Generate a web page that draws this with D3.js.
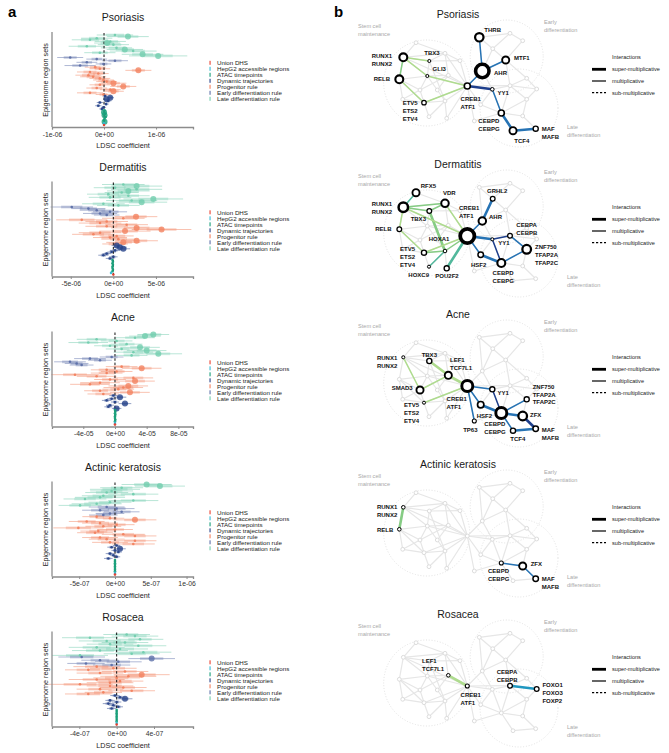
<!DOCTYPE html>
<html><head><meta charset="utf-8">
<script src="https://cdn.jsdelivr.net/npm/d3@7"></script>
<style>body{margin:0;background:#fff}svg{display:block;font-family:"Liberation Sans",Arial,sans-serif}</style>
</head><body><svg id="c" width="669" height="753"></svg>
<script>
// ---------------- DATA: panel a (forest plots) ----------------
const diseases = ["Psoriasis","Dermatitis","Acne","Actinic keratosis","Rosacea"];
const regionGroups = ["Late differentiation rule","Early differentiation rule","Progenitor rule","Dynamic trajectories","ATAC timepoints","HepG2 accessible regions","Union DHS"];
const groupSizes = [14,6,18,9,8,1,1];
const groupColors = ["#72cdae","#5d70a9","#f2825f","#27438a","#18a07a","#35bcd6","#e8412f"];
const legendLabels = ["Union DHS","HepG2 accessible regions","ATAC timepoints","Dynamic trajectories","Progenitor rule","Early differentiation rule","Late differentiation rule"];
const coefUnits = [1e-6,1e-6,1e-5,1e-7,1e-7];
const axisDomains = [[-1.0,1.71],[-7.2,9.35],[-7.95,9.85],[-8.8,10.9],[-6.93,8.18]];
const tickValues = [[-1,0,1],[-5,0,5],[-4,0,4,8],[-5,0,5,10],[-4,0,4]];

const psoriasisCoef = [0.21,0.46,-0.14,-0.27,0.12,0.06,0.18,-0.33,0.24,0.40,0.56,-0.08,0.74,1.04,
 -0.65,-0.14,0.21,-0.33,-0.01,-0.46,
 -0.17,-0.08,0.66,-0.27,-0.11,-0.30,-0.21,-0.08,-0.01,0.05,0.18,-0.08,0.37,-0.14,0.12,0.18,-0.27,-0.01,
 0.02,0.12,0.05,0.08,-0.08,0.04,-0.11,-0.01,-0.04,
 0.01,0.00,0.02,0.01,0.03,0.01,0.00,0.01, 0.00, 0.00];
const psoriasisCI = [0.35,0.40,0.30,0.35,0.30,0.25,0.30,0.35,0.30,0.35,0.45,0.30,0.40,0.56,
 0.25,0.20,0.25,0.20,0.15,0.30,
 0.20,0.20,0.25,0.25,0.20,0.25,0.25,0.20,0.20,0.20,0.25,0.20,0.25,0.20,0.20,0.20,0.25,0.15,
 0.05,0.07,0.06,0.06,0.06,0.05,0.06,0.05,0.05,
 0.01,0.01,0.01,0.01,0.01,0.01,0.01,0.01, 0.01, 0.01];
const psoriasisSig = [1,2,1,1,1,2,1,1,1,2,1,1,2,2, 1,1,1,1,1,1,
 1,1,2,1,1,1,1,1,1,1,2,1,2,1,1,2,1,1, 1,2,2,1,1,1,1,1,1, 1,2,1,2,1,1,1,2, 1, 1];

const dermatitisCoef = [1.17,2.73,0.20,2.73,1.76,0.98,-0.59,1.76,-0.39,4.69,2.15,3.32,-1.17,0.59,
 -4.88,-2.93,-1.95,-0.39,-1.56,-0.78,
 2.66,1.17,-3.71,-0.78,-1.56,1.56,-0.78,2.73,5.66,1.37,-1.56,-2.34,0.39,-0.39,0.59,2.73,1.17,0.20,
 0.39,0.78,1.17,0.20,-0.20,-0.78,-1.17,0.00,-0.39,
 -0.10,-0.05,-0.10,-0.05,-0.10,-0.10,-0.05,-0.10, -0.27, 0.00];
const dermatitisCI = [2.5,3.0,2.5,3.0,2.5,2.0,2.5,2.5,2.5,3.5,3.0,3.0,2.5,2.5,
 2.5,2.0,2.0,2.0,2.0,1.5,
 2.5,2.5,3.0,2.5,2.5,2.5,2.5,3.0,3.5,3.0,2.5,2.5,2.0,2.0,2.0,2.5,2.0,1.5,
 0.6,0.8,0.8,0.6,0.5,0.5,0.6,0.5,0.5,
 0.05,0.05,0.05,0.05,0.05,0.05,0.05,0.05, 0.05, 0.05];
const dermatitisSig = [1,2,1,1,2,1,1,1,1,2,1,2,1,1, 1,1,1,1,1,1,
 2,1,1,1,1,1,1,2,2,2,1,1,1,1,1,2,2,1, 2,2,2,1,1,1,1,1,1, 1,1,1,1,1,1,1,1, 1, 1];

const acneCoef = [4.84,3.79,2.53,-2.32,0.21,-3.37,1.47,-0.63,3.16,0.84,4.00,2.32,5.47,2.10,
 -0.42,-3.16,-1.89,-5.68,-4.84,-4.21,
 0.84,3.37,-1.05,0.21,-1.05,-5.05,-2.32,2.32,-0.63,2.53,-1.89,-3.16,1.68,1.05,0.42,-1.89,1.89,-1.47,
 -0.21,0.63,-0.42,-1.05,0.00,1.26,-0.63,-0.84,0.21,
 0.00,0.05,0.00,0.05,0.00,0.00,0.05,0.00, 0.00, 0.00];
const acneCI = [2.0,2.0,2.5,2.5,2.0,2.5,2.0,2.0,2.5,2.0,2.5,2.5,3.0,2.0,
 1.5,2.0,1.5,2.0,1.5,1.5,
 2.0,2.5,2.0,2.0,2.0,3.0,2.5,2.5,2.0,2.5,2.5,2.5,2.5,2.5,2.0,2.0,2.5,2.0,
 0.5,0.8,0.6,0.6,0.5,0.8,0.5,0.5,0.6,
 0.05,0.05,0.05,0.05,0.05,0.05,0.05,0.05, 0.05, 0.05];
const acneSig = [2,2,1,1,1,1,1,1,2,1,2,1,2,1, 1,1,1,1,1,1,
 1,2,1,1,1,1,1,1,1,2,1,1,2,1,1,1,2,1, 1,2,1,1,1,2,1,1,2, 1,1,1,1,1,1,1,1, 1, 1];

const actinicCoef = [4.42,6.28,0.93,0.00,-0.47,-1.16,2.56,-1.63,-2.09,-4.19,2.56,-0.70,-2.56,-4.88,
 -1.16,0.23,-2.09,0.93,-0.70,-1.63,
 -2.56,-0.70,2.79,-3.95,-2.09,0.23,-1.63,-5.12,0.00,-2.33,-2.79,1.16,2.79,-2.09,-1.16,2.79,-0.70,2.56,
 0.23,-0.47,0.70,0.00,0.47,-0.70,-0.23,0.23,-0.93,
 0.00,0.00,0.00,0.00,0.00,0.00,0.00,0.00, 0.00, 0.00];
const actinicCI = [3.5,3.5,3.0,3.5,3.0,3.0,3.5,3.0,3.5,3.0,3.5,3.0,3.5,3.0,
 2.5,2.5,2.5,2.5,2.0,2.0,
 2.0,2.0,3.0,2.5,2.5,2.5,2.5,3.5,2.5,2.5,2.5,3.0,3.0,2.5,2.5,3.0,2.5,3.0,
 0.5,0.6,0.8,0.5,0.5,0.6,0.5,0.5,0.6,
 0.05,0.05,0.05,0.05,0.05,0.05,0.05,0.05, 0.05, 0.05];
const actinicSig = [2,2,1,1,1,1,1,1,1,1,1,1,1,1, 1,1,1,1,1,1,
 1,1,2,1,1,1,1,1,1,1,1,1,1,1,1,1,1,1, 1,1,2,1,1,1,1,1,1, 1,1,1,1,1,1,1,1, 1, 1];

const rosaceaCoef = [1.07,1.96,-2.86,2.50,-1.07,0.89,-0.71,2.32,-2.14,0.36,-1.79,2.86,1.61,-3.93,
 -3.75,3.75,-1.79,0.18,-3.29,-0.54,
 -2.14,-0.36,-3.04,0.89,-1.79,2.68,1.25,0.00,-2.14,0.36,-0.71,-3.93,-0.71,0.71,-1.79,1.61,-1.43,-3.04,
 -0.18,0.36,0.89,-0.71,0.00,-0.89,-0.36,0.18,-0.54,
 0.00,0.00,0.00,0.00,0.00,0.00,0.00,0.00, 0.00, 0.00];
const rosaceaCI = [2.5,2.5,3.0,2.5,3.0,2.5,2.5,3.0,3.0,3.0,3.0,3.0,3.0,3.0,
 2.5,2.5,2.0,2.5,2.0,2.0,
 2.5,2.5,2.5,2.5,2.5,3.0,3.0,2.5,3.0,2.5,2.5,3.5,2.5,2.5,2.5,2.5,2.0,2.5,
 0.5,0.5,0.8,0.5,0.5,0.6,0.5,0.5,0.5,
 0.05,0.05,0.05,0.05,0.05,0.05,0.05,0.05, 0.05, 0.05];
const rosaceaSig = [1,1,1,1,1,1,1,1,1,1,1,1,1,1, 1,2,1,1,1,1,
 1,1,1,1,1,2,1,1,1,1,1,1,1,1,1,1,1,1, 1,1,2,1,1,1,1,1,1, 1,1,1,1,1,1,1,1, 1, 1];

// ---------------- DATA: panel b (TF interaction networks) ----------------
const networkNodes = ["RFX5","RUNX1","VDR","TBX3","bgA","RELB","GLI3","LEF1","SMAD3","bgB","bgC","ETV5","HOXA1","HOXC9","POU2F2",
 "CREB1","THRB","bgD","bgE","GRHL2","MTF1","AHR","YY1","CEBPA","bgF","FOXO1","HSF2","ZNF750","TP63","CEBPD","ZFX","TCF4","MAF"];
const networkEdges = [
 ["RFX5","RUNX1"],["RFX5","VDR"],["RUNX1","TBX3"],["RUNX1","VDR"],["RUNX1","RELB"],["RUNX1","GLI3"],["RUNX1","CREB1"],
 ["TBX3","VDR"],["TBX3","GLI3"],["TBX3","bgA"],["TBX3","HOXA1"],["VDR","bgA"],["VDR","LEF1"],["VDR","CREB1"],["bgA","CREB1"],
 ["RELB","GLI3"],["RELB","bgC"],["RELB","SMAD3"],["RELB","ETV5"],["GLI3","SMAD3"],["GLI3","LEF1"],["GLI3","bgB"],["GLI3","CREB1"],
 ["SMAD3","ETV5"],["SMAD3","bgC"],["SMAD3","LEF1"],["bgC","ETV5"],["bgB","HOXA1"],["bgB","LEF1"],["ETV5","HOXA1"],["ETV5","HOXC9"],
 ["ETV5","CREB1"],["HOXA1","POU2F2"],["HOXA1","CREB1"],["HOXC9","HOXA1"],["LEF1","CREB1"],["POU2F2","CREB1"],
 ["THRB","GRHL2"],["THRB","AHR"],["THRB","bgD"],["bgD","bgE"],["bgD","GRHL2"],["GRHL2","MTF1"],["bgE","MTF1"],["GRHL2","AHR"],
 ["MTF1","AHR"],["MTF1","bgF"],["MTF1","CEBPA"],["AHR","CREB1"],["AHR","YY1"],["YY1","CEBPA"],["CEBPA","bgF"],["CEBPA","FOXO1"],
 ["bgF","FOXO1"],["CREB1","YY1"],["CREB1","CEBPA"],
 ["CREB1","HSF2"],["CREB1","TP63"],["HSF2","CEBPD"],["HSF2","YY1"],["YY1","CEBPD"],["CEBPD","ZFX"],["CEBPD","TCF4"],
 ["CEBPD","ZNF750"],["CEBPA","CEBPD"],["ZNF750","CEBPA"],["ZNF750","ZFX"],["ZFX","MAF"],["TCF4","MAF"],["TP63","CEBPD"],["ZNF750","FOXO1"]];
const tfLabels = {RUNX1:["RUNX1","RUNX2"],CREB1:["CREB1","ATF1"],ETV5:["ETV5","ETS2","ETV4"],CEBPD:["CEBPD","CEBPG"],MAF:["MAF","MAFB"],
 CEBPA:["CEBPA","CEBPB"],ZNF750:["ZNF750","TFAP2A","TFAP2C"],LEF1:["LEF1","TCF7L1"],FOXO1:["FOXO1","FOXO3","FOXP2"]};

// highlighted TFs: [tf, weight]
const psoriasisTFs = [["THRB",3.5],["MTF1",2.5],["AHR",8.9],["RUNX1",3.1],["TBX3",0.5],["GLI3",0.5],["RELB",3.1],["CREB1",1.8],["YY1",0.65],["ETV5",1.0],["CEBPD",1.8],["TCF4",2.5],["MAF",1.3]];
const dermatitisTFs = [["RFX5",2.5],["VDR",2.8],["RUNX1",4.4],["TBX3",1.1],["CREB1",10],["AHR",2.8],["GRHL2",1.1],["RELB",1.1],["HOXA1",0.65],["ETV5",1.3],["HOXC9",0.5],["POU2F2",1.3],["YY1",0.5],["CEBPA",1.1],["ZNF750",3.7],["HSF2",1.5],["CEBPD",3.1]];
const acneTFs = [["RUNX1",0.5],["TBX3",1.3],["LEF1",2.5],["SMAD3",2.5],["ETV5",0.5],["CREB1",6],["YY1",1.3],["HSF2",2],["TP63",0.8],["CEBPD",6],["ZNF750",1.3],["ZFX",3.7],["TCF4",1.3],["MAF",1.5]];
const actinicTFs = [["RUNX1",0.65],["RELB",0.65],["CEBPD",0.8],["ZFX",2.5],["MAF",1.5]];
const rosaceaTFs = [["LEF1",0.65],["CREB1",0.8],["CEBPA",1.1],["FOXO1",1.1]];

// interactions: [tf1, tf2, strength class, interaction type]
const psoriasisLinks = [["THRB","AHR","b2","mult"],["MTF1","AHR","b2","mult"],["AHR","CREB1","b2","mult"],["CREB1","YY1","b3","super"],["YY1","CEBPD","b2","mult"],["CEBPD","TCF4","b2","super"],["TCF4","MAF","b2","super"],
 ["RUNX1","TBX3","g1","mult"],["RUNX1","RELB","g2","mult"],["RUNX1","GLI3","g1","mult"],["GLI3","CREB1","g1","mult"],["RELB","ETV5","g1","mult"],["ETV5","CREB1","g1","mult"]];
const dermatitisLinks = [["RFX5","RUNX1","g3","mult"],["RUNX1","VDR","g2","mult"],["RUNX1","TBX3","g2","mult"],["TBX3","VDR","g2","mult"],["RUNX1","RELB","g1","mult"],["RELB","ETV5","g1","mult"],["TBX3","HOXA1","g2","super"],["VDR","CREB1","g1","mult"],["RUNX1","CREB1","g1","mult"],["ETV5","CREB1","g1","mult"],["HOXA1","CREB1","g2","mult"],["ETV5","HOXA1","g2","mult"],["HOXC9","HOXA1","g3","mult"],["POU2F2","CREB1","g3","super"],
 ["CREB1","AHR","b2","mult"],["AHR","GRHL2","b2","super"],["CREB1","YY1","b2","super"],["CREB1","HSF2","b2","mult"],["HSF2","CEBPD","b2","super"],["YY1","CEBPD","b3","mult"],["YY1","CEBPA","b3","mult"],["CEBPA","ZNF750","b2","mult"],["ZNF750","CEBPD","b2","mult"]];
const acneLinks = [["RUNX1","SMAD3","g1","mult"],["TBX3","LEF1","g1","super"],["LEF1","CREB1","g1","super"],["SMAD3","LEF1","g1","mult"],["ETV5","CREB1","g1","mult"],
 ["CREB1","YY1","b2","mult"],["CREB1","HSF2","b2","mult"],["CREB1","TP63","b2","mult"],["HSF2","CEBPD","b2","super"],["YY1","CEBPD","b3","mult"],["CEBPD","ZNF750","b2","mult"],["CEBPD","ZFX","b2","super"],["CEBPD","TCF4","b2","mult"],["TCF4","MAF","b2","super"],["ZFX","MAF","b3","super"]];
const actinicLinks = [["RUNX1","RELB","g2","super"],["CEBPD","ZFX","b2","mult"],["ZFX","MAF","b2","mult"]];
const rosaceaLinks = [["LEF1","CREB1","g1","super"],["CEBPA","FOXO1","b1","super"]];

// ---------------- LAYOUT (positions & styles) ----------------
const nodeXY = {RFX5:[86,52.7],RUNX1:[73.3,67.3],VDR:[115,63.3],TBX3:[99.3,71],bgA:[130,70.7],RELB:[69.3,89.3],GLI3:[97.3,86],LEF1:[118.3,85.3],
 SMAD3:[90,100],bgB:[107.3,100],bgC:[72.7,109.3],ETV5:[94,112.7],HOXA1:[115,111],HOXC9:[99,126.7],POU2F2:[116.7,128.3],CREB1:[137.3,96],
 THRB:[149.3,47.3],bgD:[180,43.3],bgE:[192.7,50.7],GRHL2:[162.7,58.7],MTF1:[175.7,70],AHR:[152.3,81],YY1:[162.3,99.3],CEBPA:[180,95.7],
 bgF:[196.7,88.3],FOXO1:[206.7,99],HSF2:[150.7,114.7],ZNF750:[196.7,109.3],TP63:[144.3,131],CEBPD:[171.3,123],ZFX:[192.7,126],TCF4:[183,140.7],MAF:[205.7,138.7]};
const labelPlacement = [
 {THRB:[5,-7.3,"start"],MTF1:[8.3,-1.7,"start"],AHR:[11.7,2.3,"start"],RUNX1:[-11.3,-1.7,"end"],TBX3:[2.7,-8.3,"middle"],GLI3:[5.3,-7.3,"start"],RELB:[-9.3,0,"end"],CREB1:[-6.7,13.3,"start"],YY1:[5.3,3.3,"start"],ETV5:[-21.3,0.3,"start"],CEBPD:[-23,8,"start"],TCF4:[1.3,10,"start"],MAF:[6,0,"start"]},
 {RFX5:[4.7,-7.3,"start"],VDR:[4.3,-10,"middle"],RUNX1:[-11.3,-3.3,"end"],TBX3:[-11,8.3,"middle"],CREB1:[-8.3,-27.7,"start"],AHR:[6.7,-3.7,"start"],GRHL2:[-5.7,-8.3,"start"],RELB:[-7.7,0,"end"],HOXA1:[-6,-12,"middle"],ETV5:[-24,-3.7,"start"],HOXC9:[-10.3,8.3,"middle"],POU2F2:[0.3,7.7,"middle"],YY1:[6,3.3,"start"],CEBPA:[6.3,-11,"start"],ZNF750:[8.3,-2,"start"],HSF2:[-9.7,9.7,"start"],CEBPD:[-8.7,9.7,"start"]},
 {RUNX1:[-6,1,"end"],TBX3:[0,-6.3,"middle"],LEF1:[1.7,-15.3,"start"],SMAD3:[-7.3,-2.3,"end"],ETV5:[-20,2.3,"start"],CREB1:[-20.7,13.3,"start"],YY1:[5.3,3.3,"start"],HSF2:[-4,10.7,"start"],TP63:[-4,9,"middle"],CEBPD:[-17,10.7,"start"],ZNF750:[6,-12.7,"start"],ZFX:[7.3,-1.3,"start"],TCF4:[-2.7,7.7,"start"],MAF:[6,1,"start"]},
 {RUNX1:[-6,0,"end"],RELB:[-6,0.7,"end"],CEBPD:[-13.3,8.3,"start"],ZFX:[8,-1.7,"start"],MAF:[6,0.3,"start"]},
 {LEF1:[-26.3,-14.7,"start"],CREB1:[-6.7,9.3,"start"],CEBPA:[-13.3,-14,"start"],FOXO1:[5.7,-3.7,"start"]}];
const linkColors = {g1:"#aedb8e",g2:"#86cc84",g3:"#52b89c",b1:"#1f97c0",b2:"#2673b4",b3:"#1e3f8c"};
const linkWidths = {super:2.6,mult:1.5};

// ---------------- DRAW ----------------
const svg = d3.select("#c");
svg.append("text").attr("x",8).attr("y",17).attr("font-size",15).attr("font-weight","bold").text("a");
svg.append("text").attr("x",334).attr("y",17).attr("font-size",15).attr("font-weight","bold").text("b");

const forestSets = [
 {coef:psoriasisCoef,ci:psoriasisCI,sig:psoriasisSig},
 {coef:dermatitisCoef,ci:dermatitisCI,sig:dermatitisSig},
 {coef:acneCoef,ci:acneCI,sig:acneSig},
 {coef:actinicCoef,ci:actinicCI,sig:actinicSig},
 {coef:rosaceaCoef,ci:rosaceaCI,sig:rosaceaSig}];

function sci(v){
  if (Math.abs(v) < 1e-15) return "0e+00";
  const m = v.toExponential(0).match(/^(-?\d)e([+-])(\d+)$/);
  return m[1] + "e" + m[2] + m[3].padStart(2,"0");
}

const L = 52, R = 193;
forestSets.forEach((set, i) => {
  const base = i === 0 ? 0 : i*150 - 0.5;
  const g = svg.append("g").attr("transform", `translate(0,${base})`);
  const u = coefUnits[i];
  const x = d3.scaleLinear().domain(axisDomains[i].map(v => v*u)).range([L, R]);
  const rows = [];
  let k = 0;
  groupSizes.forEach((n, gi) => { for (let j = 0; j < n; j++) { rows.push({g: gi, c: set.coef[k]*u, ci: set.ci[k]*u, s: set.sig[k]}); k++; } });
  const y = d3.scalePoint().domain(d3.range(rows.length)).range([35, 125]);
  const rad = d3.scaleOrdinal().domain([1,2]).range([1.3, 3.0]);

  g.append("text").attr("x", 123).attr("y", 21).attr("text-anchor","middle").attr("font-size",10.5).attr("fill","#1a1a1a").text(diseases[i]);

  // outer CI lines
  g.append("g").selectAll("line").data(rows).join("line")
    .attr("x1", d => x(d.c - d.ci)).attr("x2", d => x(d.c + d.ci))
    .attr("y1", (d,j) => y(j)).attr("y2", (d,j) => y(j))
    .attr("stroke", d => groupColors[d.g]).attr("stroke-width", 0.9).attr("stroke-opacity", 0.55);
  // inner CI bands
  g.append("g").selectAll("line").data(rows).join("line")
    .attr("x1", d => x(d.c - d.ci*0.5)).attr("x2", d => x(d.c + d.ci*0.5))
    .attr("y1", (d,j) => y(j)).attr("y2", (d,j) => y(j))
    .attr("stroke", d => groupColors[d.g]).attr("stroke-width", 2.8).attr("stroke-opacity", 0.3);
  // zero line
  g.append("line").attr("x1", x(0)).attr("x2", x(0)).attr("y1", 33).attr("y2", 127)
    .attr("stroke","#111").attr("stroke-width",1).attr("stroke-dasharray","2.5,1.8");
  // points
  g.append("g").selectAll("circle").data(rows).join("circle")
    .attr("cx", d => x(d.c)).attr("cy", (d,j) => y(j)).attr("r", d => rad(d.s))
    .attr("fill", d => groupColors[d.g]).attr("fill-opacity", d => d.s === 2 ? 0.8 : 0.95);

  // axes
  g.append("line").attr("x1", L).attr("x2", L).attr("y1", 32).attr("y2", 127).attr("stroke","#8c8c8c").attr("stroke-width",1.3);
  const ax = g.append("g").attr("transform","translate(0,127)")
    .call(d3.axisBottom(x).tickValues(tickValues[i].map(t => t*u)).tickFormat(sci).tickSize(2.5).tickPadding(2.5));
  ax.select(".domain").attr("stroke","#8c8c8c").attr("stroke-width",1.3);
  ax.selectAll(".tick line").attr("stroke","#8c8c8c");
  ax.selectAll(".tick text").attr("font-size",6.8).attr("fill","#333").attr("font-family",'"Liberation Sans",Arial,sans-serif');
  g.append("text").attr("x",123).attr("y",148).attr("text-anchor","middle").attr("font-size",7.2).attr("fill","#1a1a1a").text("LDSC coefficient");
  g.append("text").attr("transform","translate(48,80) rotate(-90)").attr("text-anchor","middle").attr("font-size",7.2).attr("fill","#1a1a1a").text("Epigenome region sets");

  // legend
  const lg = g.append("g");
  legendLabels.forEach((lab, j) => {
    const col = groupColors[regionGroups.indexOf(lab)];
    lg.append("rect").attr("x",209.5).attr("y",60.8 + j*6).attr("width",1.1).attr("height",4).attr("fill",col);
    lg.append("text").attr("x",217).attr("y",63 + j*6).attr("dy","0.35em").attr("font-size",6.2).attr("fill","#222").text(lab);
  });
});

// ---------------- Network panels ----------------
const netSets = [
 {tfs:psoriasisTFs,links:psoriasisLinks},
 {tfs:dermatitisTFs,links:dermatitisLinks},
 {tfs:acneTFs,links:acneLinks},
 {tfs:actinicTFs,links:actinicLinks},
 {tfs:rosaceaTFs,links:rosaceaLinks}];
const ringR = d3.scaleSqrt().domain([0,10]).range([0,9]);
const px = n => nodeXY[n][0], py = n => nodeXY[n][1];

netSets.forEach((set, i) => {
  const g = svg.append("g").attr("transform", `translate(330,${-10 + i*150})`);
  // module circles
  [[96.7,93,43],[176.7,66.5,36.5],[189,118,39]].forEach(c => {
    g.append("circle").attr("cx",c[0]).attr("cy",c[1]).attr("r",c[2]).attr("fill","none")
      .attr("stroke","#dedede").attr("stroke-width",0.9).attr("stroke-dasharray","1,1.8");
  });
  // background edges
  g.append("g").selectAll("line").data(networkEdges).join("line")
    .attr("x1", d => px(d[0])).attr("y1", d => py(d[0])).attr("x2", d => px(d[1])).attr("y2", d => py(d[1]))
    .attr("stroke","#e6e6e6").attr("stroke-width",1.2);
  // background nodes
  g.append("g").selectAll("circle").data(networkNodes).join("circle")
    .attr("cx", px).attr("cy", py).attr("r",1.9).attr("fill","#fff").attr("stroke","#d8d8d8").attr("stroke-width",0.9);
  // highlighted links
  g.append("g").selectAll("line").data(set.links).join("line")
    .attr("x1", d => px(d[0])).attr("y1", d => py(d[0])).attr("x2", d => px(d[1])).attr("y2", d => py(d[1]))
    .attr("stroke", d => linkColors[d[2]]).attr("stroke-width", d => linkWidths[d[3]]).attr("stroke-linecap","round");
  // highlighted TFs
  g.append("g").selectAll("circle").data(set.tfs).join("circle")
    .attr("cx", d => px(d[0])).attr("cy", d => py(d[0]))
    .each(function(d){
      const r = Math.max(1.9, ringR(d[1]));
      const sw = Math.max(1, r*0.42);
      d3.select(this).attr("r", r - sw/2).attr("stroke-width", sw);
    })
    .attr("fill","#fff").attr("stroke","#000");
  // labels
  const place = labelPlacement[i];
  set.tfs.forEach(d => {
    const p = place[d[0]];
    if (!p) return;
    const lines = tfLabels[d[0]] || [d[0]];
    const t = g.append("text").attr("font-size",6).attr("font-weight","bold").attr("fill","#111").attr("text-anchor",p[2]);
    lines.forEach((ln, j) => {
      t.append("tspan").attr("x", px(d[0]) + p[0]).attr("y", py(d[0]) + p[1] + j*7.8).attr("dy","0.35em").text(ln);
    });
  });
  // title
  g.append("text").attr("x",128).attr("y",24).attr("dy","0.35em").attr("text-anchor","middle").attr("font-size",10.5).attr("fill","#1a1a1a").text(diseases[i]);
  // module labels
  const ml = [["Stem cell","maintenance",28,36],["Early","differentiation",214,32],["Late","differentiation",237,137]];
  ml.forEach(m => {
    const t = g.append("text").attr("font-size",5.6).attr("fill","#a8a8a8");
    t.append("tspan").attr("x",m[2]).attr("y",m[3]).attr("dy","0.35em").text(m[0]);
    t.append("tspan").attr("x",m[2]).attr("y",m[3]+7.6).attr("dy","0.35em").text(m[1]);
  });
  // legend
  g.append("text").attr("x",282).attr("y",67.5).attr("dy","0.35em").attr("font-size",5.6).attr("fill","#222").text("Interactions");
  [["super-multiplicative",2.8,null],["multiplicative",1.2,null],["sub-multiplicative",1.2,"2.2,1.8"]].forEach((s, j) => {
    const yy = 79.3 + j*11.7;
    const ln = g.append("line").attr("x1",262).attr("x2",276).attr("y1",yy).attr("y2",yy).attr("stroke","#000").attr("stroke-width",s[1]);
    if (s[2]) ln.attr("stroke-dasharray", s[2]);
    g.append("text").attr("x",282).attr("y",yy).attr("dy","0.35em").attr("font-size",5.6).attr("fill","#222").text(s[0]);
  });
});
</script></body></html>
